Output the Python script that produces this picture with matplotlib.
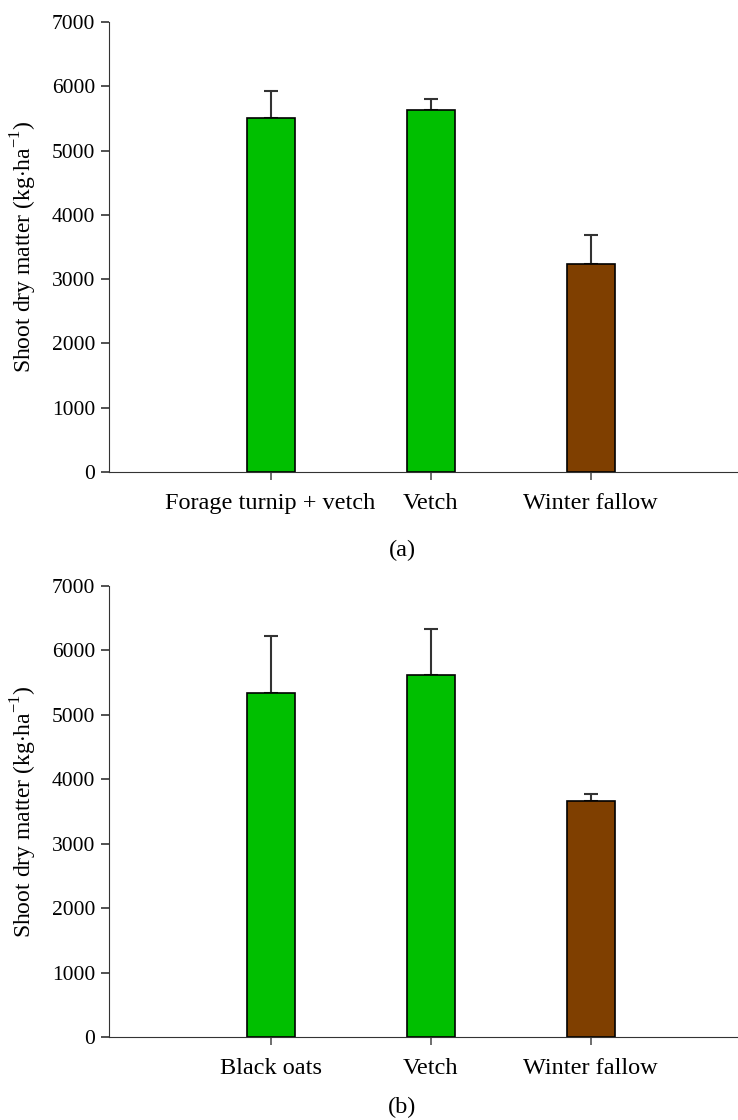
import numpy as np
import matplotlib
matplotlib.use('Agg')
import matplotlib.pyplot as plt

plt.rcParams['font.family'] = ['Liberation Serif', 'DejaVu Serif']
plt.rcParams['mathtext.fontset'] = 'custom'
plt.rcParams['mathtext.rm'] = 'Liberation Serif'

# panel (a)
labels_a = ['Forage turnip + vetch', 'Vetch', 'Winter fallow']
means_a = [5500, 5625, 3240]
err_a = [420, 180, 450]

# panel (b)
labels_b = ['Black oats', 'Vetch', 'Winter fallow']
means_b = [5340, 5625, 3665]
err_b = [890, 710, 105]

colors = ['#00BF00', '#00BF00', '#7F3F00']
ylab = 'Shoot dry matter (kg$\\cdot$ha$^{\\mathregular{-1}}$)'

fig = plt.figure(figsize=(7.38, 11.2), dpi=100)
ax1 = fig.add_axes([0.1477, 0.5786, 0.852, 0.4018])
ax2 = fig.add_axes([0.1477, 0.0741, 0.852, 0.4027])


def draw(ax, labels, means, errs, tag, tag_y):
    x = np.arange(len(labels))
    ax.bar(x, means, width=0.3, color=colors, edgecolor='black', linewidth=1.2, zorder=2)
    ax.errorbar(x, means, yerr=[np.zeros(len(errs)), errs], fmt='none',
                ecolor='#333333', elinewidth=1.5, capsize=5, capthick=1.5, zorder=1)
    ax.set_xlim(-1.01, 2.92)
    ax.set_ylim(0, 7000)
    ax.set_yticks(range(0, 7001, 1000))
    ax.set_xticks(x)
    ax.set_xticklabels(labels)
    ax.spines['top'].set_visible(False)
    ax.spines['right'].set_visible(False)
    ax.spines['left'].set_color('#333333')
    ax.spines['bottom'].set_color('#333333')
    ax.tick_params(axis='y', direction='out', length=6, width=1.2, color='#333333', labelsize=15.5, pad=4)
    ax.tick_params(axis='x', direction='out', length=6, width=1.2, color='#555555', labelsize=17.5, pad=9)
    ax.set_ylabel(ylab, fontsize=17, labelpad=9)
    fig.text(0.545, tag_y, tag, fontsize=17.5, ha='center', va='center')


draw(ax1, labels_a, means_a, err_a, '(a)', 1 - 550 / 1120)
draw(ax2, labels_b, means_b, err_b, '(b)', 1 - 1107 / 1120)

fig.savefig('out.png', dpi=100)
